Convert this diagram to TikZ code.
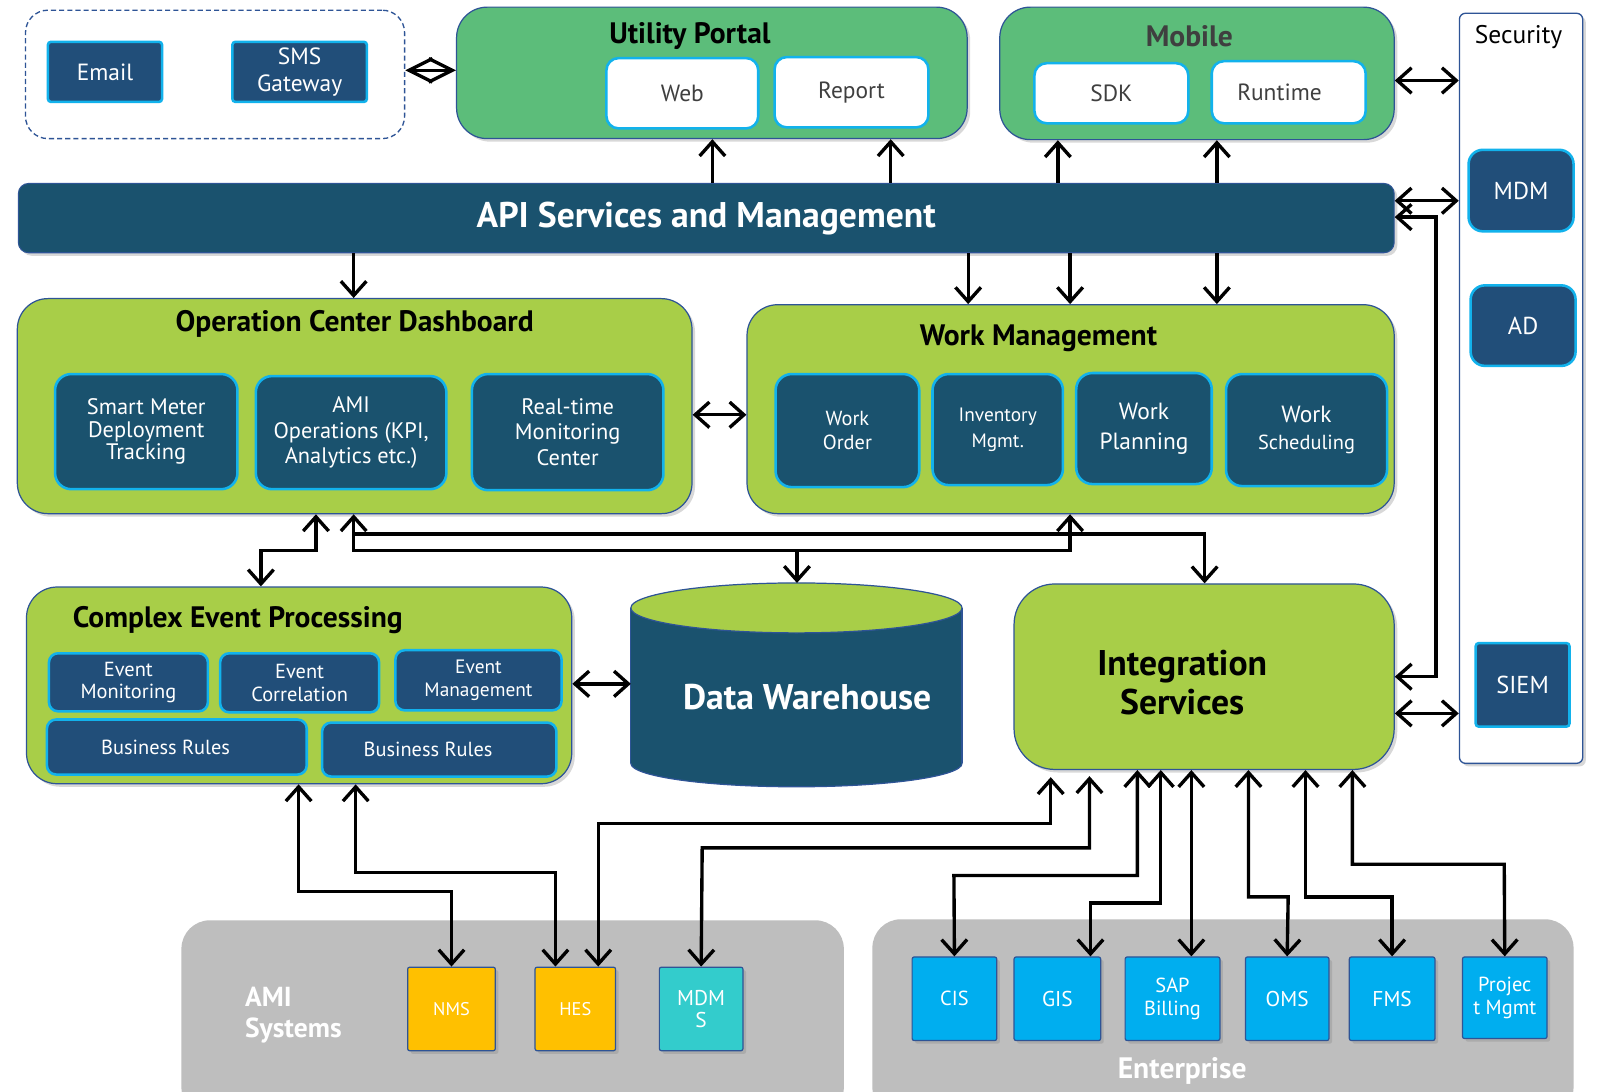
\documentclass[tikz,border=0pt]{standalone}
\usepackage{fontspec}
\setmainfont{PT Sans}
\usetikzlibrary{arrows.meta,shadows}
\definecolor{lime}{HTML}{A8CE48}
\definecolor{pgreen}{HTML}{5CBD7A}
\definecolor{dteal}{HTML}{1A526E}
\definecolor{navy}{HTML}{214E79}
\definecolor{cyanb}{HTML}{12B2EC}
\definecolor{bdr}{HTML}{2E5496}
\definecolor{grayr}{HTML}{BEBEBE}
\definecolor{orng}{HTML}{FFC000}
\definecolor{tealc}{HTML}{33CCCC}
\definecolor{entb}{HTML}{00AEEF}
\definecolor{txtg}{HTML}{3F3F3F}
\newcommand\fs[2]{\fontsize{#1}{#2}\selectfont}
\newcommand\mkbox[7]{%
  \pgfmathsetmacro\bw{#4-#2}%
  \pgfmathsetmacro\bh{#5-#3}%
  \pgfmathsetmacro\bcx{(#2+#4)/2}%
  \pgfmathsetmacro\bcy{(#3+#5)/2}%
  \node[#6, minimum width=\bw pt, minimum height=\bh pt] (#1) at (\bcx,\bcy) {#7};}
\tikzset{
  shd/.style={drop shadow={shadow xshift=3pt, shadow yshift=-3pt, opacity=0.3}},
  big/.style={draw=bdr, line width=1.2pt, rounded corners=30pt, shd, inner sep=0pt},
  inb/.style={draw=cyanb, line width=2.5pt, fill=dteal, text=white, rounded corners=16pt, align=center, inner sep=0pt, font=\fs{22}{25}},
  nvb/.style={inb, fill=navy, rounded corners=9pt},
  whb/.style={draw=cyanb, line width=2.5pt, fill=white, rounded corners=12pt, text=txtg, inner sep=0pt, font=\fs{23}{26}},
  btm/.style={draw=bdr, line width=1.2pt, rounded corners=2pt, shd, text=white, align=center, inner sep=0pt},
  title/.style={font=\bfseries\fs{29}{32}},
  arr/.style={line width=3.3pt, ->},
  darr/.style={line width=3.3pt, <->},
  dia/.style={line width=3.3pt, {Straight Barb[length=23pt,width=23pt]}-{Straight Barb[length=23pt,width=23pt]}},
}
\begin{document}
\begin{tikzpicture}[x=1pt, y=-1pt, >={Straight Barb[length=14pt,width=25pt]}]
\useasboundingbox (0,0) rectangle (1568,1071);
\fill[white] (0,0) rectangle (1568,1071);

% bottom regions
\mkbox{AMI}{178}{903}{828}{1095}{fill=grayr, rounded corners=28pt}{}
\node[text=white, font=\bfseries\fs{27}{30}, align=left, anchor=west] (AMIT) at (237,996) {AMI\\Systems};
\mkbox{ENT}{856}{902}{1544}{1095}{fill=grayr, rounded corners=28pt}{}
\node[text=white, font=\bfseries\fs{29}{30}] (ENTT) at (1160,1051) {Enterprise};

% notification group
\mkbox{Notif}{25}{10}{397}{136}{draw=bdr, line width=1.3pt, rounded corners=22pt, dash pattern=on 5pt off 3pt}{}
\mkbox{Email}{47}{41}{159}{100}{nvb, rounded corners=3pt, font=\fs{23}{26}}{Email}
\mkbox{SMS}{228}{41}{360}{100}{nvb, rounded corners=3pt, font=\fs{23}{26}}{SMS\\Gateway}

% Utility Portal
\mkbox{Portal}{448}{7}{949}{136}{big, fill=pgreen}{}
\node[title] (PortalT) at (677,35) {Utility Portal};
\mkbox{Web}{595}{57}{744}{126}{whb}{Web}
\mkbox{Report}{760}{56}{911}{125}{whb}{Report}

% Mobile
\mkbox{Mobile}{981}{7}{1368}{137}{big, fill=pgreen}{}
\node[title, text=txtg] (MobileT) at (1167,36) {Mobile};
\mkbox{SDK}{1015}{62}{1166}{121}{whb}{SDK}
\mkbox{Runtime}{1189}{60}{1340}{121}{whb}{Runtime\hspace*{18pt}}

% Security
\mkbox{Sec}{1432}{13}{1553}{749}{draw=bdr, line width=1.3pt, fill=white, rounded corners=6pt, shd}{}
\node[font=\fs{25}{28}] (SecT) at (1490,36) {Security};
\mkbox{MDM}{1441}{147}{1544}{227}{nvb, rounded corners=14pt, font=\fs{24}{26}}{MDM}
\mkbox{AD}{1443}{280}{1546}{359}{nvb, rounded corners=14pt, font=\fs{24}{26}}{AD}
\mkbox{SIEM}{1448}{631}{1540}{713}{nvb, rounded corners=3pt, font=\fs{24}{26}}{SIEM}

% API bar
\mkbox{API}{18}{180}{1368}{248}{draw=bdr, line width=1pt, fill=dteal, rounded corners=10pt, shd, text=white, font=\bfseries\fs{35}{38}}{API Services and Management}

% Operation Center Dashboard
\mkbox{OCD}{17}{293}{679}{504}{big, fill=lime}{}
\node[title] (OCDT) at (348,318) {Operation Center Dashboard};
\mkbox{SMDT}{54}{367}{233}{480}{inb, font=\fs{22}{22}}{Smart Meter\\Deployment\\Tracking}
\mkbox{AMIO}{251}{369}{438}{480}{inb, font=\fs{22}{25}}{AMI\\Operations (KPI,\\Analytics etc.)}
\mkbox{RTMC}{463}{367}{651}{481}{inb, font=\fs{22}{25}}{Real-time\\Monitoring\\Center}

% Work Management
\mkbox{WM}{733}{299}{1368}{504}{big, fill=lime}{}
\node[title] (WMT) at (1019,332) {Work Management};
\mkbox{WO}{761}{367}{902}{478}{inb, font=\fs{20}{23}}{Work\\Order}
\mkbox{INV}{915}{367}{1043}{476}{inb, font=\fs{19}{26}}{Inventory\\Mgmt.}
\mkbox{WP}{1056}{366}{1189}{475}{inb, font=\fs{23}{29}}{Work\\Planning}
\mkbox{WS}{1203}{367}{1361}{477}{inb, font=\fs{23}{27}}{Work\\{\fs{20}{27}Scheduling}}

% Complex Event Processing
\mkbox{CEP}{26}{576}{561}{769}{big, fill=lime}{}
\node[title, anchor=west] (CEPT) at (68,608) {Complex Event Processing};
\mkbox{EM}{48}{641}{204}{698}{nvb, font=\fs{20}{22}}{Event\\Monitoring}
\mkbox{EC}{216}{641}{372}{699}{nvb, font=\fs{20}{22}}{Event\\Correlation}
\mkbox{EMg}{388}{638}{551}{697}{nvb, font=\fs{19}{22}}{Event\\Management}
\mkbox{BR1}{46}{706}{301}{760}{nvb, font=\fs{20}{22}}{Business Rules\hspace*{22pt}}
\mkbox{BR2}{316}{709}{546}{762}{nvb, font=\fs{20}{22}}{Business Rules\hspace*{22pt}}

% Data Warehouse cylinder
\fill[dteal] (619,596.5) rectangle (944,749);
\fill[dteal] (781.5,749) ellipse[x radius=162.5, y radius=23];
\draw[bdr, line width=1.2pt] (619,596.5) -- (619,749) (944,596.5) -- (944,749);
\begin{scope}
  \clip (600,749) rectangle (960,795);
  \draw[bdr, line width=1.2pt] (781.5,749) ellipse[x radius=162.5, y radius=23];
\end{scope}
\filldraw[fill=lime, draw=bdr, line width=1.2pt] (781.5,596.5) ellipse[x radius=162.5, y radius=24.5];
\node[text=white, font=\bfseries\fs{35}{38}] (DW) at (792,684) {Data Warehouse};
\coordinate (DWtop) at (782,572);
\coordinate (DWleft) at (619,671);

% Integration Services
\mkbox{IS}{995}{573}{1368}{755}{big, fill=lime, rounded corners=40pt}{}
\node[font=\bfseries\fs{35}{38}, align=center] (IST) at (1160,670) {Integration\\Services};

% AMI systems boxes
\mkbox{NMS}{400}{949}{486}{1031}{btm, fill=orng, font=\fs{18}{20}}{NMS}
\mkbox{HES}{525}{949}{604}{1031}{btm, fill=orng, font=\fs{18}{20}}{HES}
\mkbox{MDMS}{647}{949}{729}{1031}{btm, fill=tealc, font=\fs{21}{22}}{MDM\\S}

% Enterprise boxes
\mkbox{CIS}{895}{939}{978}{1021}{btm, fill=entb, font=\fs{20}{22}}{CIS}
\mkbox{GIS}{995}{939}{1080}{1021}{btm, fill=entb, font=\fs{21}{22}}{GIS}
\mkbox{SAP}{1104}{939}{1197}{1021}{btm, fill=entb, font=\fs{20}{23}}{SAP\\Billing}
\mkbox{OMS}{1222}{939}{1304}{1021}{btm, fill=entb, font=\fs{21}{22}}{OMS}
\mkbox{FMS}{1324}{939}{1408}{1021}{btm, fill=entb, font=\fs{21}{22}}{FMS}
\mkbox{PM}{1435}{939}{1518}{1019}{btm, fill=entb, font=\fs{20}{23}}{Projec\\t Mgmt}

% ---------------- connectors ----------------
\draw[dia] (Notif.east |- 0,69) -- (Portal.west |- 0,69);
\draw[arr] (API.north -| 699,0) -- (Portal.south -| 699,0);
\draw[arr] (API.north -| 874,0) -- (Portal.south -| 874,0);
\draw[arr] (API.north -| 1038,0) -- (Mobile.south -| 1038,0);
\draw[arr] (API.north -| 1194,0) -- (Mobile.south -| 1194,0);
\draw[arr] (API.south -| 347,0) -- (OCD.north -| 347,0);
\draw[arr] (API.south -| 950,0) -- (WM.north -| 950,0);
\draw[arr] (API.south -| 1050,0) -- (WM.north -| 1050,0);
\draw[arr] (API.south -| 1194,0) -- (WM.north -| 1194,0);

\draw[darr] (Mobile.east |- 0,79) -- (Sec.west |- 0,79);
\draw[darr] (API.east |- 0,197) -- (Sec.west |- 0,197);
\draw[darr] (API.east |- 0,213) -- (1409,213) -- (1409,664) -- (IS.east |- 0,664);
\draw[darr] (IS.east |- 0,700) -- (Sec.west |- 0,700);

\draw[darr] (OCD.east |- 0,407) -- (WM.west |- 0,407);
\draw[darr] (CEP.east |- 0,671) -- (DWleft);

\draw[darr] (CEP.north -| 256,0) -- (256,540) -- (310,540) -- (OCD.south -| 310,0);
\draw[darr] (OCD.south -| 347,0) -- (347,540) -- (1050,540) -- (WM.south -| 1050,0);
\draw[arr] (782,540) -- (DWtop);
\draw[arr] (347,524) -- (1182,524) -- (IS.north -| 1182,0);

\draw[darr] (CEP.south -| 293,0) -- (293,875) -- (443,875) -- (NMS.north);
\draw[darr] (CEP.south -| 349,0) -- (349,856) -- (545,856) -- (HES.north -| 545,0);
\draw[darr] (HES.north -| 587,0) -- (587,808) -- (1031,808) -- ([yshift=-7pt]IS.south -| 1031,0);
\draw[darr] (MDMS.north) -- (689,832) -- (1069,832) -- ([yshift=-6pt]IS.south -| 1069,0);
\draw[darr] (CIS.north) -- (936,859) -- (1116,859) -- (IS.south -| 1116,0);
\draw[darr] (GIS.north -| 1070,0) -- (1070,886) -- (1139,886) -- (IS.south -| 1139,0);
\draw[darr] (SAP.north -| 1169,0) -- (IS.south -| 1169,0);
\draw[darr] (OMS.north) -- (1264,880) -- (1225,880) -- (IS.south -| 1225,0);
\draw[darr] (FMS.north) -- (1366,880) -- (1281,880) -- (IS.south -| 1281,0);
\draw[darr] (PM.north) -- (1476,848) -- (1327,848) -- (IS.south -| 1327,0);
\end{tikzpicture}
\end{document}
